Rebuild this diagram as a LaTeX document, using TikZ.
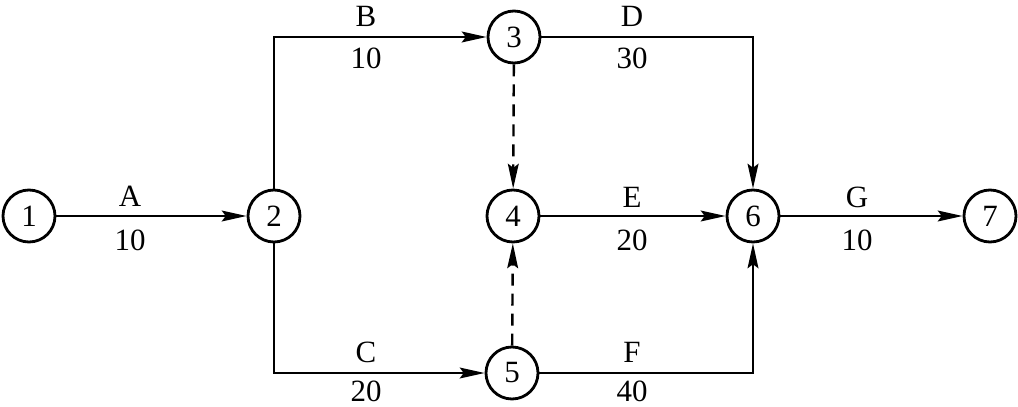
\documentclass[tikz,border=0pt]{standalone}
\usepackage{fontspec}
\setmainfont{Liberation Serif}
\usetikzlibrary{arrows.meta}
\begin{document}
\begin{tikzpicture}[x=0.025cm,y=-0.025cm,
  ev/.style={circle,draw,line width=2pt,minimum size=1.3cm,inner sep=0pt,font=\fontsize{22}{22}\selectfont},
  act/.style={line width=1.7pt,-{Stealth[length=0.62cm,width=0.27cm,inset=0.1cm]}},
  dum/.style={act,dash pattern=on 0.3cm off 0.2cm},
  lab/.style={font=\fontsize{22}{22}\selectfont,inner sep=0pt}]
\useasboundingbox (0,0) rectangle (1018,407);
\node[ev] (n1) at (29,216) {1};
\node[ev] (n2) at (274,216) {2};
\node[ev] (n3) at (514,37) {3};
\node[ev] (n4) at (513,216) {4};
\node[ev] (n5) at (512,373) {5};
\node[ev] (n6) at (753,216) {6};
\node[ev] (n7) at (990,216) {7};
\draw[act] (n1) -- (n2);
\draw[act] (n2) |- (n3);
\draw[act] (n2) |- (n5);
\draw[act] (n3) -| (n6);
\draw[act] (n5) -| (n6);
\draw[act] (n4) -- (n6);
\draw[act] (n6) -- (n7);
\draw[dum] (n3) -- (n4);
\draw[dum] (n5) -- (n4);
\node[lab] (la) at (130,196) {A};
\node[lab] (la2) at (130,240) {10};
\node[lab] (lb) at (366,16) {B};
\node[lab] (lb2) at (366,58) {10};
\node[lab] (ld) at (632,16) {D};
\node[lab] (ld2) at (632,58) {30};
\node[lab] (le) at (632,197) {E};
\node[lab] (le2) at (632,240) {20};
\node[lab] (lg) at (857,197) {G};
\node[lab] (lg2) at (857,240) {10};
\node[lab] (lc) at (366,352) {C};
\node[lab] (lc2) at (366,391) {20};
\node[lab] (lf) at (632,352) {F};
\node[lab] (lf2) at (632,391) {40};
\end{tikzpicture}
\end{document}
